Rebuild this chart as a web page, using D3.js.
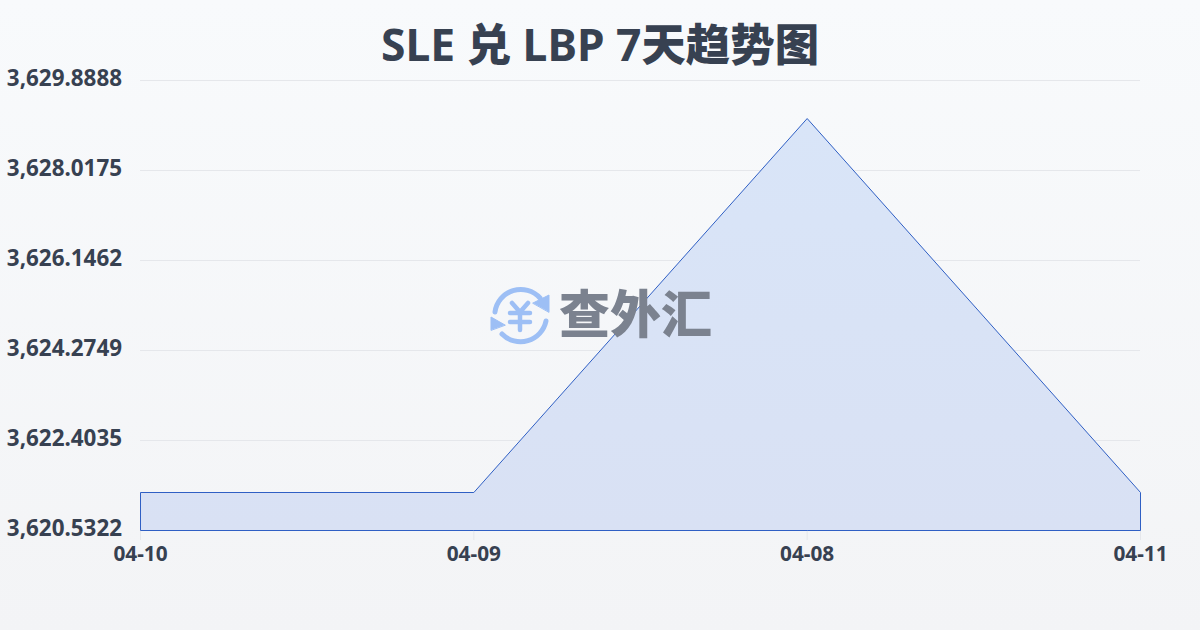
<!DOCTYPE html>
<html><head><meta charset="utf-8">
<script src="https://cdn.jsdelivr.net/npm/d3@7"></script>
<style>html,body{margin:0;padding:0;width:1200px;height:630px;overflow:hidden}svg{display:block}</style>
</head><body><svg id="c" width="1200" height="630"></svg>
<script>
const titleParts = [["SLE ",700],["兑",900],[" LBP 7",700],["天趋势图",900]];
const categories = ["04-10","04-09","04-08","04-11"];
const rates = [3621.3223,3621.3223,3629.098,3621.3223];
const yTicks = [3620.5322,3622.4035,3624.2749,3626.1462,3628.0175,3629.8888];
const font = '"Noto Sans","Noto Sans CJK SC",sans-serif';
const svg = d3.select("#c");
const defs = svg.append("defs");
const bg = defs.append("linearGradient").attr("id","bg").attr("x1",0).attr("y1",0).attr("x2",0).attr("y2",1);
bg.append("stop").attr("offset","0%").attr("stop-color","#f8fafc");
bg.append("stop").attr("offset","100%").attr("stop-color","#f3f4f6");
svg.append("rect").attr("width",1200).attr("height",630).attr("fill","url(#bg)");
const ag = defs.append("linearGradient").attr("id","ag").attr("x1",0).attr("y1",0).attr("x2",0).attr("y2",1);
ag.append("stop").attr("offset","0%").attr("stop-color","#d9e5f8");
ag.append("stop").attr("offset","100%").attr("stop-color","#d9e1f4");

const x = d3.scalePoint().domain(categories).range([140.5,1140.5]);
const y = d3.scaleLinear().domain([yTicks[0],yTicks[yTicks.length-1]]).range([530.5,80.5]);

svg.append("g").selectAll("line").data(yTicks.slice(1)).join("line")
  .attr("x1",140).attr("x2",1140).attr("y1",d=>y(d)).attr("y2",d=>y(d))
  .attr("stroke","#e5e7eb").attr("stroke-width",1);
svg.append("g").selectAll("line").data(categories).join("line")
  .attr("x1",d=>x(d)).attr("x2",d=>x(d)).attr("y1",530).attr("y2",540)
  .attr("stroke","#e5e7eb").attr("stroke-width",1);

const area = d3.area().x((d,i)=>x(categories[i])).y0(y(yTicks[0])).y1(d=>y(d));
svg.append("path").datum(rates).attr("d",area).attr("fill","url(#ag)")
  .attr("stroke","#2f5fc4").attr("stroke-width",1);

// watermark
const wm = svg.append("g").attr("pointer-events","none");
const ic = wm.append("g").attr("transform","translate(520,315)").attr("fill","none").attr("stroke","#9dbff5").attr("stroke-linecap","round");
ic.append("path").attr("d","M-25,-3 A26,26 0 0 1 20,-17").attr("stroke-width",5);
ic.append("path").attr("d","M26,6 A26,26 0 0 1 -18,19").attr("stroke-width",5);
ic.append("path").attr("d","M13,-12 L29,-20 L29,-3 Z").attr("fill","#9dbff5").attr("stroke","#9dbff5").attr("stroke-width",1).attr("stroke-linejoin","round");
ic.append("path").attr("d","M-15,10 L-29,2 L-29,15 Z").attr("fill","#9dbff5").attr("stroke","#9dbff5").attr("stroke-width",1).attr("stroke-linejoin","round");
ic.append("path").attr("d","M-8,-12 L0,-3 L8,-12 M-10,-2 H10 M-10,7 H10 M0,-3 V15").attr("stroke-width",4.5);
wm.append("text").attr("x",559).attr("y",333).attr("font-family",'"Noto Sans CJK SC",sans-serif')
  .attr("font-size",51).attr("font-weight",900).attr("fill","#7b828f").text("查外汇");

svg.append("g").selectAll("text").data(yTicks).join("text")
  .attr("x",122).attr("y",d=>y(d)).attr("dy",5.5).attr("text-anchor","end")
  .attr("font-family",font).attr("font-size",22.4).attr("font-weight",700).attr("fill","#374151")
  .text(d=>d3.format(",.4f")(d));
svg.append("g").selectAll("text").data(categories).join("text")
  .attr("x",d=>x(d)).attr("y",561).attr("text-anchor","middle")
  .attr("font-family",font).attr("font-size",20.8).attr("font-weight",700).attr("fill","#374151")
  .text(d=>d);
svg.append("text").attr("x",600).attr("y",61).attr("text-anchor","middle")
  .attr("font-family",font).attr("font-size",44.4).attr("fill","#374151")
  .selectAll("tspan").data(titleParts).join("tspan")
  .attr("font-weight",d=>d[1]).text(d=>d[0]);
</script></body></html>
